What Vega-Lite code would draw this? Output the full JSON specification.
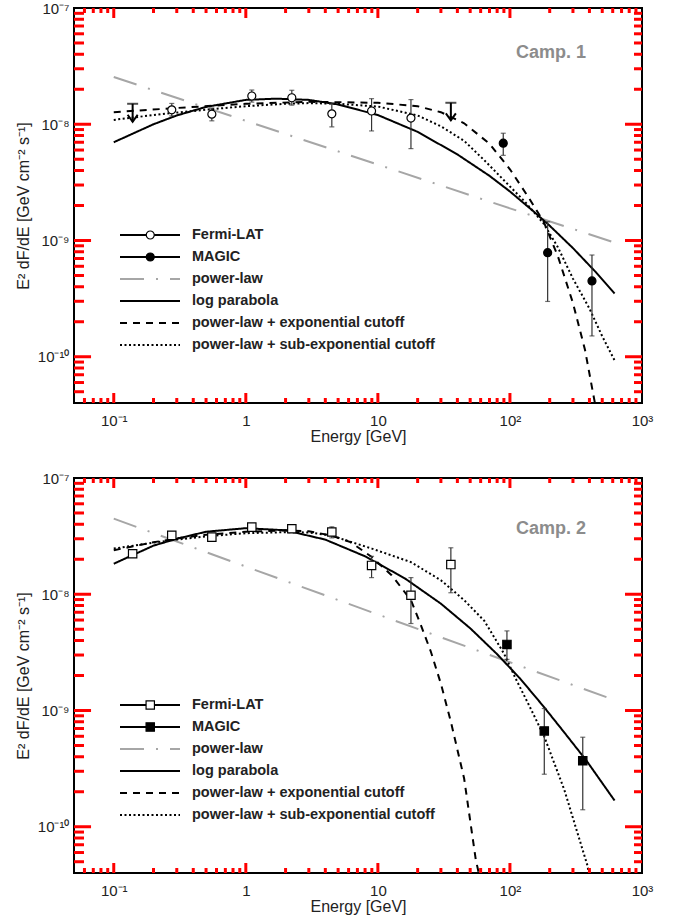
{
  "$schema": "https://vega.github.io/schema/vega-lite/v6.json",
  "background": "white",
  "padding": {"left": 14, "top": 0, "right": 5, "bottom": 0},
  "spacing": 25,
  "config": {
    "view": {"stroke": "black", "strokeWidth": 2},
    "font": "Liberation Sans",
    "axis": {"grid": false, "domain": false, "ticks": false, "labelFont": "Liberation Sans", "labelFontSize": 15, "labelColor": "#222", "titleFont": "Liberation Sans", "titleFontSize": 16, "titleFontWeight": "normal", "titleColor": "#222", "labelOverlap": false, "labelFlush": false}
  },
  "datasets": {
    "xt": [
      {"v":0.06,"kind":"minor"},{"v":0.07,"kind":"minor"},{"v":0.08,"kind":"minor"},{"v":0.09,"kind":"minor"},{"v":0.1,"kind":"major"},
      {"v":0.2,"kind":"minor"},{"v":0.3,"kind":"minor"},{"v":0.4,"kind":"minor"},{"v":0.5,"kind":"minor"},{"v":0.6,"kind":"minor"},{"v":0.7,"kind":"minor"},{"v":0.8,"kind":"minor"},{"v":0.9,"kind":"minor"},{"v":1,"kind":"major"},
      {"v":2,"kind":"minor"},{"v":3,"kind":"minor"},{"v":4,"kind":"minor"},{"v":5,"kind":"minor"},{"v":6,"kind":"minor"},{"v":7,"kind":"minor"},{"v":8,"kind":"minor"},{"v":9,"kind":"minor"},{"v":10,"kind":"major"},
      {"v":20,"kind":"minor"},{"v":30,"kind":"minor"},{"v":40,"kind":"minor"},{"v":50,"kind":"minor"},{"v":60,"kind":"minor"},{"v":70,"kind":"minor"},{"v":80,"kind":"minor"},{"v":90,"kind":"minor"},{"v":100,"kind":"major"},
      {"v":200,"kind":"minor"},{"v":300,"kind":"minor"},{"v":400,"kind":"minor"},{"v":500,"kind":"minor"},{"v":600,"kind":"minor"},{"v":700,"kind":"minor"},{"v":800,"kind":"minor"},{"v":900,"kind":"minor"}
    ],
    "yt": [
      {"v":5e-11,"kind":"minor"},{"v":6e-11,"kind":"minor"},{"v":7e-11,"kind":"minor"},{"v":8e-11,"kind":"minor"},{"v":9e-11,"kind":"minor"},{"v":1e-10,"kind":"major"},
      {"v":2e-10,"kind":"minor"},{"v":3e-10,"kind":"minor"},{"v":4e-10,"kind":"minor"},{"v":5e-10,"kind":"minor"},{"v":6e-10,"kind":"minor"},{"v":7e-10,"kind":"minor"},{"v":8e-10,"kind":"minor"},{"v":9e-10,"kind":"minor"},{"v":1e-9,"kind":"major"},
      {"v":2e-9,"kind":"minor"},{"v":3e-9,"kind":"minor"},{"v":4e-9,"kind":"minor"},{"v":5e-9,"kind":"minor"},{"v":6e-9,"kind":"minor"},{"v":7e-9,"kind":"minor"},{"v":8e-9,"kind":"minor"},{"v":9e-9,"kind":"minor"},{"v":1e-8,"kind":"major"},
      {"v":2e-8,"kind":"minor"},{"v":3e-8,"kind":"minor"},{"v":4e-8,"kind":"minor"},{"v":5e-8,"kind":"minor"},{"v":6e-8,"kind":"minor"},{"v":7e-8,"kind":"minor"},{"v":8e-8,"kind":"minor"},{"v":9e-8,"kind":"minor"}
    ],
    "curves": [
      {"camp":1,"series":"power-law","E":0.1,"F":2.55e-8},{"camp":1,"series":"power-law","E":1,"F":1.07e-8},{"camp":1,"series":"power-law","E":10,"F":4.5e-9},{"camp":1,"series":"power-law","E":100,"F":1.89e-9},{"camp":1,"series":"power-law","E":620,"F":9.6e-10},
      {"camp":1,"series":"log parabola","E":0.1,"F":7.0e-9},{"camp":1,"series":"log parabola","E":0.2,"F":1.0e-8},{"camp":1,"series":"log parabola","E":0.3,"F":1.19e-8},{"camp":1,"series":"log parabola","E":0.5,"F":1.41e-8},{"camp":1,"series":"log parabola","E":1,"F":1.62e-8},{"camp":1,"series":"log parabola","E":1.7,"F":1.66e-8},{"camp":1,"series":"log parabola","E":3,"F":1.62e-8},{"camp":1,"series":"log parabola","E":5,"F":1.48e-8},{"camp":1,"series":"log parabola","E":10,"F":1.2e-8},{"camp":1,"series":"log parabola","E":20,"F":8.6e-9},{"camp":1,"series":"log parabola","E":40,"F":5.5e-9},{"camp":1,"series":"log parabola","E":70,"F":3.6e-9},{"camp":1,"series":"log parabola","E":100,"F":2.64e-9},{"camp":1,"series":"log parabola","E":150,"F":1.79e-9},{"camp":1,"series":"log parabola","E":200,"F":1.34e-9},{"camp":1,"series":"log parabola","E":300,"F":8.6e-10},{"camp":1,"series":"log parabola","E":450,"F":5.3e-10},{"camp":1,"series":"log parabola","E":620,"F":3.5e-10},
      {"camp":1,"series":"power-law + exponential cutoff","E":0.1,"F":1.27e-8},{"camp":1,"series":"power-law + exponential cutoff","E":0.3,"F":1.38e-8},{"camp":1,"series":"power-law + exponential cutoff","E":1,"F":1.5e-8},{"camp":1,"series":"power-law + exponential cutoff","E":3,"F":1.56e-8},{"camp":1,"series":"power-law + exponential cutoff","E":10,"F":1.53e-8},{"camp":1,"series":"power-law + exponential cutoff","E":20,"F":1.43e-8},{"camp":1,"series":"power-law + exponential cutoff","E":30,"F":1.27e-8},{"camp":1,"series":"power-law + exponential cutoff","E":45,"F":1.02e-8},{"camp":1,"series":"power-law + exponential cutoff","E":70,"F":6.8e-9},{"camp":1,"series":"power-law + exponential cutoff","E":100,"F":4.1e-9},{"camp":1,"series":"power-law + exponential cutoff","E":140,"F":2.3e-9},{"camp":1,"series":"power-law + exponential cutoff","E":180,"F":1.45e-9},{"camp":1,"series":"power-law + exponential cutoff","E":230,"F":7.4e-10},{"camp":1,"series":"power-law + exponential cutoff","E":300,"F":2.9e-10},{"camp":1,"series":"power-law + exponential cutoff","E":370,"F":1.15e-10},{"camp":1,"series":"power-law + exponential cutoff","E":424,"F":5.0e-11},{"camp":1,"series":"power-law + exponential cutoff","E":440,"F":4e-11},{"camp":1,"series":"power-law + exponential cutoff","E":620,"F":4e-11},
      {"camp":1,"series":"power-law + sub-exponential cutoff","E":0.1,"F":1.09e-8},{"camp":1,"series":"power-law + sub-exponential cutoff","E":0.2,"F":1.2e-8},{"camp":1,"series":"power-law + sub-exponential cutoff","E":0.3,"F":1.26e-8},{"camp":1,"series":"power-law + sub-exponential cutoff","E":0.6,"F":1.36e-8},{"camp":1,"series":"power-law + sub-exponential cutoff","E":1,"F":1.43e-8},{"camp":1,"series":"power-law + sub-exponential cutoff","E":2,"F":1.5e-8},{"camp":1,"series":"power-law + sub-exponential cutoff","E":3,"F":1.52e-8},{"camp":1,"series":"power-law + sub-exponential cutoff","E":5,"F":1.5e-8},{"camp":1,"series":"power-law + sub-exponential cutoff","E":10,"F":1.42e-8},{"camp":1,"series":"power-law + sub-exponential cutoff","E":20,"F":1.19e-8},{"camp":1,"series":"power-law + sub-exponential cutoff","E":30,"F":9.6e-9},{"camp":1,"series":"power-law + sub-exponential cutoff","E":45,"F":7.2e-9},{"camp":1,"series":"power-law + sub-exponential cutoff","E":64,"F":4.9e-9},{"camp":1,"series":"power-law + sub-exponential cutoff","E":90,"F":3.3e-9},{"camp":1,"series":"power-law + sub-exponential cutoff","E":130,"F":2.15e-9},{"camp":1,"series":"power-law + sub-exponential cutoff","E":180,"F":1.4e-9},{"camp":1,"series":"power-law + sub-exponential cutoff","E":230,"F":8.8e-10},{"camp":1,"series":"power-law + sub-exponential cutoff","E":300,"F":4.7e-10},{"camp":1,"series":"power-law + sub-exponential cutoff","E":400,"F":2.6e-10},{"camp":1,"series":"power-law + sub-exponential cutoff","E":500,"F":1.5e-10},{"camp":1,"series":"power-law + sub-exponential cutoff","E":620,"F":9.3e-11},
      {"camp":2,"series":"power-law","E":0.1,"F":4.47e-8},{"camp":2,"series":"power-law","E":1,"F":1.73e-8},{"camp":2,"series":"power-law","E":10,"F":6.7e-9},{"camp":2,"series":"power-law","E":100,"F":2.6e-9},{"camp":2,"series":"power-law","E":620,"F":1.23e-9},
      {"camp":2,"series":"log parabola","E":0.1,"F":1.83e-8},{"camp":2,"series":"log parabola","E":0.2,"F":2.62e-8},{"camp":2,"series":"log parabola","E":0.3,"F":3.0e-8},{"camp":2,"series":"log parabola","E":0.5,"F":3.45e-8},{"camp":2,"series":"log parabola","E":1,"F":3.7e-8},{"camp":2,"series":"log parabola","E":2,"F":3.55e-8},{"camp":2,"series":"log parabola","E":4,"F":2.95e-8},{"camp":2,"series":"log parabola","E":8,"F":2.12e-8},{"camp":2,"series":"log parabola","E":16,"F":1.37e-8},{"camp":2,"series":"log parabola","E":30,"F":8.3e-9},{"camp":2,"series":"log parabola","E":50,"F":5.1e-9},{"camp":2,"series":"log parabola","E":80,"F":3.05e-9},{"camp":2,"series":"log parabola","E":120,"F":1.87e-9},{"camp":2,"series":"log parabola","E":180,"F":1.08e-9},{"camp":2,"series":"log parabola","E":260,"F":6.4e-10},{"camp":2,"series":"log parabola","E":380,"F":3.7e-10},{"camp":2,"series":"log parabola","E":620,"F":1.68e-10},
      {"camp":2,"series":"power-law + exponential cutoff","E":0.1,"F":2.39e-8},{"camp":2,"series":"power-law + exponential cutoff","E":0.2,"F":2.8e-8},{"camp":2,"series":"power-law + exponential cutoff","E":0.3,"F":3.02e-8},{"camp":2,"series":"power-law + exponential cutoff","E":0.5,"F":3.25e-8},{"camp":2,"series":"power-law + exponential cutoff","E":1,"F":3.45e-8},{"camp":2,"series":"power-law + exponential cutoff","E":2,"F":3.55e-8},{"camp":2,"series":"power-law + exponential cutoff","E":3,"F":3.48e-8},{"camp":2,"series":"power-law + exponential cutoff","E":4.4,"F":3.21e-8},{"camp":2,"series":"power-law + exponential cutoff","E":6.2,"F":2.81e-8},{"camp":2,"series":"power-law + exponential cutoff","E":9,"F":2.09e-8},{"camp":2,"series":"power-law + exponential cutoff","E":12.7,"F":1.46e-8},{"camp":2,"series":"power-law + exponential cutoff","E":17.8,"F":8.9e-9},{"camp":2,"series":"power-law + exponential cutoff","E":21.2,"F":5.4e-9},{"camp":2,"series":"power-law + exponential cutoff","E":25.2,"F":3.2e-9},{"camp":2,"series":"power-law + exponential cutoff","E":30,"F":1.7e-9},{"camp":2,"series":"power-law + exponential cutoff","E":35.7,"F":8.0e-10},{"camp":2,"series":"power-law + exponential cutoff","E":45,"F":2.6e-10},{"camp":2,"series":"power-law + exponential cutoff","E":55,"F":5.3e-11},{"camp":2,"series":"power-law + exponential cutoff","E":58,"F":4e-11},{"camp":2,"series":"power-law + exponential cutoff","E":410,"F":4e-11},
      {"camp":2,"series":"power-law + sub-exponential cutoff","E":0.1,"F":2.47e-8},{"camp":2,"series":"power-law + sub-exponential cutoff","E":0.2,"F":2.78e-8},{"camp":2,"series":"power-law + sub-exponential cutoff","E":0.3,"F":2.95e-8},{"camp":2,"series":"power-law + sub-exponential cutoff","E":0.5,"F":3.15e-8},{"camp":2,"series":"power-law + sub-exponential cutoff","E":1,"F":3.35e-8},{"camp":2,"series":"power-law + sub-exponential cutoff","E":2,"F":3.42e-8},{"camp":2,"series":"power-law + sub-exponential cutoff","E":3,"F":3.4e-8},{"camp":2,"series":"power-law + sub-exponential cutoff","E":4.4,"F":3.21e-8},{"camp":2,"series":"power-law + sub-exponential cutoff","E":9,"F":2.47e-8},{"camp":2,"series":"power-law + sub-exponential cutoff","E":17.8,"F":1.89e-8},{"camp":2,"series":"power-law + sub-exponential cutoff","E":30,"F":1.32e-8},{"camp":2,"series":"power-law + sub-exponential cutoff","E":45,"F":8.9e-9},{"camp":2,"series":"power-law + sub-exponential cutoff","E":64,"F":5.9e-9},{"camp":2,"series":"power-law + sub-exponential cutoff","E":90,"F":3.1e-9},{"camp":2,"series":"power-law + sub-exponential cutoff","E":110,"F":1.9e-9},{"camp":2,"series":"power-law + sub-exponential cutoff","E":140,"F":1.1e-9},{"camp":2,"series":"power-law + sub-exponential cutoff","E":182,"F":5.96e-10},{"camp":2,"series":"power-law + sub-exponential cutoff","E":258,"F":2.08e-10},{"camp":2,"series":"power-law + sub-exponential cutoff","E":387,"F":4.6e-11},{"camp":2,"series":"power-law + sub-exponential cutoff","E":395,"F":4e-11},{"camp":2,"series":"power-law + sub-exponential cutoff","E":620,"F":4e-11}
    ],
    "pts": [
      {"camp":1,"series":"Fermi-LAT","E":0.275,"F":1.33e-8,"lo":1.18e-8,"hi":1.51e-8},
      {"camp":1,"series":"Fermi-LAT","E":0.553,"F":1.22e-8,"lo":1.07e-8,"hi":1.38e-8},
      {"camp":1,"series":"Fermi-LAT","E":1.11,"F":1.75e-8,"lo":1.55e-8,"hi":1.97e-8},
      {"camp":1,"series":"Fermi-LAT","E":2.23,"F":1.69e-8,"lo":1.46e-8,"hi":1.96e-8},
      {"camp":1,"series":"Fermi-LAT","E":4.48,"F":1.23e-8,"lo":0.95e-8,"hi":1.52e-8},
      {"camp":1,"series":"Fermi-LAT","E":8.96,"F":1.30e-8,"lo":0.876e-8,"hi":1.66e-8},
      {"camp":1,"series":"Fermi-LAT","E":17.8,"F":1.13e-8,"lo":0.617e-8,"hi":1.63e-8},
      {"camp":1,"series":"MAGIC","E":89,"F":6.87e-9,"lo":5.4e-9,"hi":8.37e-9},
      {"camp":1,"series":"MAGIC","E":193,"F":7.85e-10,"lo":2.99e-10,"hi":1.45e-9},
      {"camp":1,"series":"MAGIC","E":418,"F":4.49e-10,"lo":1.51e-10,"hi":7.5e-10},
      {"camp":2,"series":"Fermi-LAT","E":0.139,"F":2.23e-8,"lo":2.08e-8,"hi":2.4e-8},
      {"camp":2,"series":"Fermi-LAT","E":0.275,"F":3.21e-8,"lo":3.0e-8,"hi":3.42e-8},
      {"camp":2,"series":"Fermi-LAT","E":0.553,"F":3.1e-8,"lo":2.9e-8,"hi":3.3e-8},
      {"camp":2,"series":"Fermi-LAT","E":1.11,"F":3.78e-8,"lo":3.55e-8,"hi":4.0e-8},
      {"camp":2,"series":"Fermi-LAT","E":2.23,"F":3.66e-8,"lo":3.45e-8,"hi":3.9e-8},
      {"camp":2,"series":"Fermi-LAT","E":4.48,"F":3.43e-8,"lo":3.05e-8,"hi":3.8e-8},
      {"camp":2,"series":"Fermi-LAT","E":8.96,"F":1.77e-8,"lo":1.39e-8,"hi":2.12e-8},
      {"camp":2,"series":"Fermi-LAT","E":17.8,"F":9.8e-9,"lo":5.6e-9,"hi":1.39e-8},
      {"camp":2,"series":"Fermi-LAT","E":35.7,"F":1.8e-8,"lo":1.03e-8,"hi":2.51e-8},
      {"camp":2,"series":"MAGIC","E":94.9,"F":3.7e-9,"lo":2.75e-9,"hi":4.84e-9},
      {"camp":2,"series":"MAGIC","E":182,"F":6.67e-10,"lo":2.83e-10,"hi":1.04e-9},
      {"camp":2,"series":"MAGIC","E":356,"F":3.69e-10,"lo":1.4e-10,"hi":5.89e-10}
    ],
    "ul": [
      {"camp":1,"E":0.139,"F":1.5e-8,"tip":1.05e-8},
      {"camp":1,"E":35.7,"F":1.53e-8,"tip":1.08e-8}
    ],
    "labels": [
      {"camp":1,"label":"Camp. 1","E":205,"F":4.12e-8},
      {"camp":2,"label":"Camp. 2","E":205,"F":3.66e-8}
    ]
  },
  "resolve": {"scale": {"stroke": "independent", "strokeDash": "independent", "fill": "independent"}},
  "vconcat": [
    {
      "width": 568, "height": 395,
      "layer": [
        {
          "data": {"name": "curves"},
          "transform": [{"filter": "datum.camp == 1"}],
          "mark": {"type": "line", "strokeWidth": 2, "clip": true},
          "encoding": {
            "x": {"field": "E", "type": "quantitative", "scale": {"type": "log", "domain": [0.05, 1000], "nice": false},
              "axis": {"orient": "bottom", "values": [0.1,1,10,100,1000], "ticks": false, "tickSize": 0,
                "labelExpr": "datum.value==0.1?'10⁻¹':datum.value==1?'1':datum.value==10?'10':datum.value==100?'10²':'10³'",
                "labelPadding": 10, "title": "Energy [GeV]", "titlePadding": 0}},
            "y": {"field": "F", "type": "quantitative", "scale": {"type": "log", "domain": [4e-11, 1e-7], "nice": false},
              "axis": {"orient": "left", "values": [1e-10,1e-9,1e-8,1e-7], "ticks": false, "tickSize": 0,
                "labelExpr": "datum.value==1e-7?'10⁻⁷':datum.value==1e-8?'10⁻⁸':datum.value==1e-9?'10⁻⁹':'10⁻¹⁰'",
                "labelPadding": 5, "title": "E² dF/dE [GeV cm⁻² s⁻¹]", "titlePadding": 6}},
            "stroke": {"field": "series", "type": "nominal",
              "scale": {"domain": ["Fermi-LAT","MAGIC","power-law","log parabola","power-law + exponential cutoff","power-law + sub-exponential cutoff"], "range": ["black","black","#a6a6a6","black","black","black"]},
              "legend": {"title": null, "orient": "none", "legendX": 45, "legendY": 217, "symbolSize": 3600, "symbolType": "stroke", "clipHeight": 20, "rowPadding": 2, "labelOffset": 11, "padding": 0, "offset": 0,
                "labelFont": "Liberation Sans", "labelFontSize": 14.5, "labelFontWeight": "bold", "labelColor": "#222", "labelLimit": 400, "symbolStrokeWidth": 2}},
            "strokeDash": {"field": "series", "type": "nominal",
              "scale": {"domain": ["Fermi-LAT","MAGIC","power-law","log parabola","power-law + exponential cutoff","power-law + sub-exponential cutoff"], "range": [[1,0],[1,0],[24,12,2,12],[1,0],[7,6],[2,2.5]]},
              "legend": null}
          }
        },
        {"data": {"name": "xt"}, "transform": [{"filter": "datum.kind == 'major'"}], "mark": {"type": "rule", "strokeWidth": 3, "color": "red"}, "encoding": {"x": {"field": "v", "type": "quantitative"}, "y": {"datum": 4e-11, "type": "quantitative"}, "y2": {"datum": 4.876e-11}}},
        {"data": {"name": "xt"}, "transform": [{"filter": "datum.kind == 'minor'"}], "mark": {"type": "rule", "strokeWidth": 3, "color": "red"}, "encoding": {"x": {"field": "v", "type": "quantitative"}, "y": {"datum": 4e-11, "type": "quantitative"}, "y2": {"datum": 4.416e-11}}},
        {"data": {"name": "xt"}, "transform": [{"filter": "datum.kind == 'major'"}], "mark": {"type": "rule", "strokeWidth": 3, "color": "red"}, "encoding": {"x": {"field": "v", "type": "quantitative"}, "y": {"datum": 1e-7, "type": "quantitative"}, "y2": {"datum": 8.2e-8}}},
        {"data": {"name": "xt"}, "transform": [{"filter": "datum.kind == 'minor'"}], "mark": {"type": "rule", "strokeWidth": 3, "color": "red"}, "encoding": {"x": {"field": "v", "type": "quantitative"}, "y": {"datum": 1e-7, "type": "quantitative"}, "y2": {"datum": 9.06e-8}}},
        {"data": {"name": "yt"}, "transform": [{"filter": "datum.kind == 'major'"}], "mark": {"type": "rule", "strokeWidth": 3, "color": "red"}, "encoding": {"y": {"field": "v", "type": "quantitative"}, "x": {"datum": 0.05, "type": "quantitative"}, "x2": {"datum": 0.0673}}},
        {"data": {"name": "yt"}, "transform": [{"filter": "datum.kind == 'minor'"}], "mark": {"type": "rule", "strokeWidth": 3, "color": "red"}, "encoding": {"y": {"field": "v", "type": "quantitative"}, "x": {"datum": 0.05, "type": "quantitative"}, "x2": {"datum": 0.0595}}},
        {"data": {"name": "yt"}, "transform": [{"filter": "datum.kind == 'major'"}], "mark": {"type": "rule", "strokeWidth": 3, "color": "red"}, "encoding": {"y": {"field": "v", "type": "quantitative"}, "x": {"datum": 1000, "type": "quantitative"}, "x2": {"datum": 743.5}}},
        {"data": {"name": "yt"}, "transform": [{"filter": "datum.kind == 'minor'"}], "mark": {"type": "rule", "strokeWidth": 3, "color": "red"}, "encoding": {"y": {"field": "v", "type": "quantitative"}, "x": {"datum": 1000, "type": "quantitative"}, "x2": {"datum": 869.6}}},
        {
          "data": {"name": "pts"},
          "transform": [{"filter": "datum.camp == 1"}],
          "mark": {"type": "rule", "color": "#333", "strokeWidth": 1.2},
          "encoding": {"x": {"field": "E", "type": "quantitative"}, "y": {"field": "lo", "type": "quantitative"}, "y2": {"field": "hi"}}
        },
        {
          "data": {"name": "pts"},
          "transform": [{"filter": "datum.camp == 1"}],
          "mark": {"type": "tick", "orient": "horizontal", "color": "#333", "size": 5, "thickness": 1.2},
          "encoding": {"x": {"field": "E", "type": "quantitative"}, "y": {"field": "lo", "type": "quantitative"}}
        },
        {
          "data": {"name": "pts"},
          "transform": [{"filter": "datum.camp == 1"}],
          "mark": {"type": "tick", "orient": "horizontal", "color": "#333", "size": 5, "thickness": 1.2},
          "encoding": {"x": {"field": "E", "type": "quantitative"}, "y": {"field": "hi", "type": "quantitative"}}
        },
        {
          "data": {"name": "ul"},
          "transform": [{"filter": "datum.camp == 1"}],
          "mark": {"type": "rule", "color": "black", "strokeWidth": 2},
          "encoding": {"x": {"field": "E", "type": "quantitative"}, "y": {"field": "F", "type": "quantitative"}, "y2": {"field": "tip"}}
        },
        {
          "data": {"name": "ul"},
          "transform": [{"filter": "datum.camp == 1"}],
          "mark": {"type": "tick", "orient": "horizontal", "color": "black", "size": 11, "thickness": 2},
          "encoding": {"x": {"field": "E", "type": "quantitative"}, "y": {"field": "F", "type": "quantitative"}}
        },
        {
          "data": {"name": "ul"},
          "transform": [{"filter": "datum.camp == 1"}],
          "mark": {"type": "point", "shape": "M-1,-1.4L0,0L1,-1.4", "size": 100, "filled": false, "color": "black", "strokeWidth": 2, "opacity": 1},
          "encoding": {"x": {"field": "E", "type": "quantitative"}, "y": {"field": "tip", "type": "quantitative"}}
        },
        {
          "data": {"name": "pts"},
          "transform": [{"filter": "datum.camp == 1"}],
          "mark": {"type": "point", "shape": "circle", "filled": true, "size": 64, "stroke": "black", "strokeWidth": 1.2, "opacity": 1},
          "encoding": {
            "x": {"field": "E", "type": "quantitative"},
            "y": {"field": "F", "type": "quantitative"},
            "fill": {"field": "series", "type": "nominal", "scale": {"domain": ["Fermi-LAT","MAGIC"], "range": ["white","black"]},
              "legend": {"title": null, "orient": "none", "legendX": 69, "legendY": 217, "symbolSize": 64, "symbolType": "circle", "clipHeight": 20, "rowPadding": 2, "labelOffset": 11, "padding": 0, "offset": 0,
                "labelFontSize": 14.5, "labelExpr": "''", "symbolStrokeColor": "black", "symbolStrokeWidth": 1.2, "symbolOpacity": 1}}
          }
        },
        {
          "data": {"name": "labels"},
          "transform": [{"filter": "datum.camp == 1"}],
          "mark": {"type": "text", "font": "Liberation Sans", "fontSize": 18, "fontWeight": "bold", "color": "#8c8c8c", "align": "center", "baseline": "middle"},
          "encoding": {"x": {"field": "E", "type": "quantitative"}, "y": {"field": "F", "type": "quantitative"}, "text": {"field": "label"}}
        }
      ]
    },
    {
      "width": 568, "height": 395,
      "layer": [
        {
          "data": {"name": "curves"},
          "transform": [{"filter": "datum.camp == 2"}],
          "mark": {"type": "line", "strokeWidth": 2, "clip": true},
          "encoding": {
            "x": {"field": "E", "type": "quantitative", "scale": {"type": "log", "domain": [0.05, 1000], "nice": false},
              "axis": {"orient": "bottom", "values": [0.1,1,10,100,1000], "ticks": false, "tickSize": 0,
                "labelExpr": "datum.value==0.1?'10⁻¹':datum.value==1?'1':datum.value==10?'10':datum.value==100?'10²':'10³'",
                "labelPadding": 10, "title": "Energy [GeV]", "titlePadding": 0}},
            "y": {"field": "F", "type": "quantitative", "scale": {"type": "log", "domain": [4e-11, 1e-7], "nice": false},
              "axis": {"orient": "left", "values": [1e-10,1e-9,1e-8,1e-7], "ticks": false, "tickSize": 0,
                "labelExpr": "datum.value==1e-7?'10⁻⁷':datum.value==1e-8?'10⁻⁸':datum.value==1e-9?'10⁻⁹':'10⁻¹⁰'",
                "labelPadding": 5, "title": "E² dF/dE [GeV cm⁻² s⁻¹]", "titlePadding": 6}},
            "stroke": {"field": "series", "type": "nominal",
              "scale": {"domain": ["Fermi-LAT","MAGIC","power-law","log parabola","power-law + exponential cutoff","power-law + sub-exponential cutoff"], "range": ["black","black","#a6a6a6","black","black","black"]},
              "legend": {"title": null, "orient": "none", "legendX": 45, "legendY": 217, "symbolSize": 3600, "symbolType": "stroke", "clipHeight": 20, "rowPadding": 2, "labelOffset": 11, "padding": 0, "offset": 0,
                "labelFont": "Liberation Sans", "labelFontSize": 14.5, "labelFontWeight": "bold", "labelColor": "#222", "labelLimit": 400, "symbolStrokeWidth": 2}},
            "strokeDash": {"field": "series", "type": "nominal",
              "scale": {"domain": ["Fermi-LAT","MAGIC","power-law","log parabola","power-law + exponential cutoff","power-law + sub-exponential cutoff"], "range": [[1,0],[1,0],[24,12,2,12],[1,0],[7,6],[2,2.5]]},
              "legend": null}
          }
        },
        {"data": {"name": "xt"}, "transform": [{"filter": "datum.kind == 'major'"}], "mark": {"type": "rule", "strokeWidth": 3, "color": "red"}, "encoding": {"x": {"field": "v", "type": "quantitative"}, "y": {"datum": 4e-11, "type": "quantitative"}, "y2": {"datum": 4.876e-11}}},
        {"data": {"name": "xt"}, "transform": [{"filter": "datum.kind == 'minor'"}], "mark": {"type": "rule", "strokeWidth": 3, "color": "red"}, "encoding": {"x": {"field": "v", "type": "quantitative"}, "y": {"datum": 4e-11, "type": "quantitative"}, "y2": {"datum": 4.416e-11}}},
        {"data": {"name": "xt"}, "transform": [{"filter": "datum.kind == 'major'"}], "mark": {"type": "rule", "strokeWidth": 3, "color": "red"}, "encoding": {"x": {"field": "v", "type": "quantitative"}, "y": {"datum": 1e-7, "type": "quantitative"}, "y2": {"datum": 8.2e-8}}},
        {"data": {"name": "xt"}, "transform": [{"filter": "datum.kind == 'minor'"}], "mark": {"type": "rule", "strokeWidth": 3, "color": "red"}, "encoding": {"x": {"field": "v", "type": "quantitative"}, "y": {"datum": 1e-7, "type": "quantitative"}, "y2": {"datum": 9.06e-8}}},
        {"data": {"name": "yt"}, "transform": [{"filter": "datum.kind == 'major'"}], "mark": {"type": "rule", "strokeWidth": 3, "color": "red"}, "encoding": {"y": {"field": "v", "type": "quantitative"}, "x": {"datum": 0.05, "type": "quantitative"}, "x2": {"datum": 0.0673}}},
        {"data": {"name": "yt"}, "transform": [{"filter": "datum.kind == 'minor'"}], "mark": {"type": "rule", "strokeWidth": 3, "color": "red"}, "encoding": {"y": {"field": "v", "type": "quantitative"}, "x": {"datum": 0.05, "type": "quantitative"}, "x2": {"datum": 0.0595}}},
        {"data": {"name": "yt"}, "transform": [{"filter": "datum.kind == 'major'"}], "mark": {"type": "rule", "strokeWidth": 3, "color": "red"}, "encoding": {"y": {"field": "v", "type": "quantitative"}, "x": {"datum": 1000, "type": "quantitative"}, "x2": {"datum": 743.5}}},
        {"data": {"name": "yt"}, "transform": [{"filter": "datum.kind == 'minor'"}], "mark": {"type": "rule", "strokeWidth": 3, "color": "red"}, "encoding": {"y": {"field": "v", "type": "quantitative"}, "x": {"datum": 1000, "type": "quantitative"}, "x2": {"datum": 869.6}}},
        {
          "data": {"name": "pts"},
          "transform": [{"filter": "datum.camp == 2"}],
          "mark": {"type": "rule", "color": "#333", "strokeWidth": 1.2},
          "encoding": {"x": {"field": "E", "type": "quantitative"}, "y": {"field": "lo", "type": "quantitative"}, "y2": {"field": "hi"}}
        },
        {
          "data": {"name": "pts"},
          "transform": [{"filter": "datum.camp == 2"}],
          "mark": {"type": "tick", "orient": "horizontal", "color": "#333", "size": 5, "thickness": 1.2},
          "encoding": {"x": {"field": "E", "type": "quantitative"}, "y": {"field": "lo", "type": "quantitative"}}
        },
        {
          "data": {"name": "pts"},
          "transform": [{"filter": "datum.camp == 2"}],
          "mark": {"type": "tick", "orient": "horizontal", "color": "#333", "size": 5, "thickness": 1.2},
          "encoding": {"x": {"field": "E", "type": "quantitative"}, "y": {"field": "hi", "type": "quantitative"}}
        },
        {
          "data": {"name": "pts"},
          "transform": [{"filter": "datum.camp == 2"}],
          "mark": {"type": "point", "shape": "square", "filled": true, "size": 70, "stroke": "black", "strokeWidth": 1.2, "opacity": 1},
          "encoding": {
            "x": {"field": "E", "type": "quantitative"},
            "y": {"field": "F", "type": "quantitative"},
            "fill": {"field": "series", "type": "nominal", "scale": {"domain": ["Fermi-LAT","MAGIC"], "range": ["white","black"]},
              "legend": {"title": null, "orient": "none", "legendX": 69, "legendY": 217, "symbolSize": 70, "symbolType": "square", "clipHeight": 20, "rowPadding": 2, "labelOffset": 11, "padding": 0, "offset": 0,
                "labelFontSize": 14.5, "labelExpr": "''", "symbolStrokeColor": "black", "symbolStrokeWidth": 1.2, "symbolOpacity": 1}}
          }
        },
        {
          "data": {"name": "labels"},
          "transform": [{"filter": "datum.camp == 2"}],
          "mark": {"type": "text", "font": "Liberation Sans", "fontSize": 18, "fontWeight": "bold", "color": "#8c8c8c", "align": "center", "baseline": "middle"},
          "encoding": {"x": {"field": "E", "type": "quantitative"}, "y": {"field": "F", "type": "quantitative"}, "text": {"field": "label"}}
        }
      ]
    }
  ]
}
